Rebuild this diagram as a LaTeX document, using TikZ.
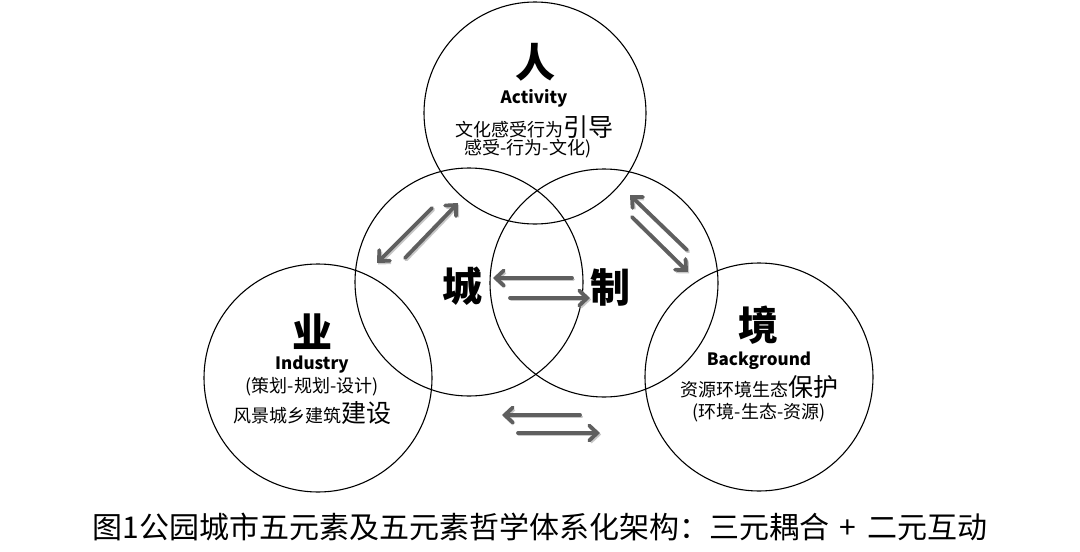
\documentclass[tikz,border=0pt]{standalone}
\usepackage{fontspec}
\setmainfont{Noto Sans CJK SC}
\usetikzlibrary{arrows.meta}
\newcommand{\fsz}[1]{\fontsize{#1}{#1}\selectfont}
\tikzset{
  ring/.style={draw=black, line width=1.1pt, circle, inner sep=0pt},
  big/.style={font=\fsz{40}\bfseries, inner sep=0pt},
  eng/.style={font=\fsz{17}\bfseries, inner sep=0pt},
  small/.style={font=\fsz{18}, inner sep=0pt},
  swap/.style={color={rgb,255:red,95;green,95;blue,95}, line width=3.8pt,
    -{Straight Barb[length=8pt,width=15pt,line cap=round]}, line cap=round},
  shade/.style={draw=black!22, line width=3.8pt, -{Straight Barb[length=8pt,width=15pt]}, line cap=round, transform canvas={xshift=1.2pt,yshift=-1.5pt}}
}
\begin{document}
\begin{tikzpicture}[x=1pt,y=-1pt]
\useasboundingbox (0,0) rectangle (1080,552);
% circles
\node[ring, minimum size=222pt] (top) at (535,113) {};
\node[ring, minimum size=228pt] (lm) at (469,282) {};
\node[ring, minimum size=228pt] (rm) at (604,283) {};
\node[ring, minimum size=228pt] (bl) at (318,378) {};
\node[ring, minimum size=228pt] (br) at (759,377) {};
% top texts
\node[big] (ren) at (535,62) {人};
\node[eng] (act) at (534,98) {Activity};
\node[small] (t1) at (534,127) {文化感受行为{\fsz{25}引导}};
\node[small] (t2) at (528,149) {感受-行为-文化)};
% left texts
\node[big] (ye) at (312,332) {业};
\node[eng] (ind) at (312,365) {Industry};
\node[small] (l1) at (312,387) {(策划-规划-设计)};
\node[small] (l2) at (312,413) {风景城乡建筑{\fsz{25}建设}};
% right texts
\node[big] (jing) at (758,325) {境};
\node[eng] (bg) at (759,361) {Background};
\node[small] (r1) at (759,387) {资源环境生态{\fsz{25}保护}};
\node[small] (r2) at (759,413) {(环境-生态-资源)};
% middle
\node[big] (cheng) at (462,286) {城};
\node[big] (zhi) at (610,287) {制};
% caption
\node[font=\fsz{30}, inner sep=0pt] (cap) at (540,527) {图1公园城市五元素及五元素哲学体系化架构：三元耦合\hspace{0.35em}+\hspace{0.35em}二元互动};
% arrow end points
\coordinate (a1s) at (432,208); \coordinate (a1e) at (377,263);
\coordinate (a2s) at (405,258); \coordinate (a2e) at (458,203);
\coordinate (a3s) at (687,250); \coordinate (a3e) at (630,195);
\coordinate (a4s) at (632,217); \coordinate (a4e) at (688,272);
\coordinate (a5s) at (572,278); \coordinate (a5e) at (493,278);
\coordinate (a6s) at (510,298); \coordinate (a6e) at (590,298);
\coordinate (a7s) at (580,415); \coordinate (a7e) at (502,415);
\coordinate (a8s) at (518,433); \coordinate (a8e) at (600,433);
\foreach \i in {1,...,8} {\draw[shade] (a\i s) -- (a\i e);}
\foreach \i in {1,...,8} {\draw[swap] (a\i s) -- (a\i e);}
\end{tikzpicture}
\end{document}
